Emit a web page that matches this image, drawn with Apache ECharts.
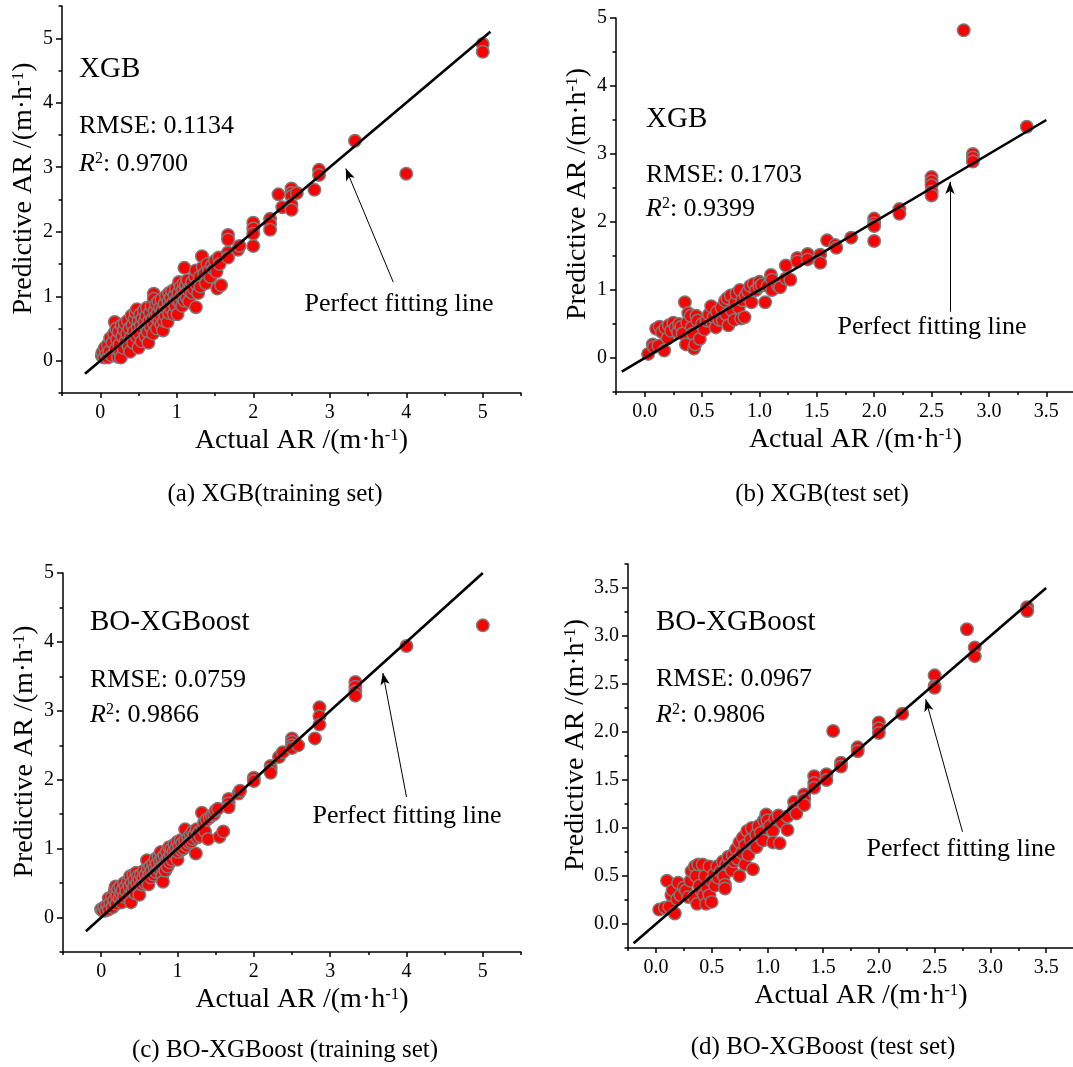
<!DOCTYPE html>
<html>
<head>
<meta charset="utf-8">
<script src="https://cdn.jsdelivr.net/npm/echarts@6/dist/echarts.min.js"></script>
<style>
  html, body { margin: 0; padding: 0; background: #fff; }
  #chart { width: 1073px; height: 1067px; }
</style>
</head>
<body>
<div id="chart"></div>
<script>
// ---- data: [actual, predicted] pairs (m·h-1) ----
const xgbTrain = [
  [0.02,0.08],[0.03,0.13],[0.05,0.05],[0.06,0.2],[0.08,0.1],[0.1,0.05],[0.1,0.25],[0.12,0.15],[0.13,0.35],[0.15,0.08],
  [0.16,0.28],[0.18,0.42],[0.19,0.6],[0.2,0.18],[0.21,0.5],[0.22,0.33],[0.23,0.06],[0.24,0.45],[0.25,0.25],[0.26,0.13],
  [0.27,0.05],[0.28,0.55],[0.29,0.38],[0.3,0.2],[0.31,0.48],[0.32,0.58],[0.33,0.3],[0.35,0.42],[0.36,0.62],[0.37,0.22],
  [0.38,0.5],[0.39,0.14],[0.4,0.36],[0.41,0.7],[0.42,0.55],[0.43,0.28],[0.44,0.45],[0.45,0.65],[0.46,0.75],[0.47,0.38],
  [0.48,0.8],[0.49,0.52],[0.5,0.2],[0.5,0.62],[0.51,0.42],[0.52,0.72],[0.53,0.55],[0.54,0.3],[0.55,0.66],[0.56,0.48],
  [0.57,0.78],[0.58,0.6],[0.59,0.38],[0.6,0.7],[0.6,0.52],[0.61,0.82],[0.62,0.45],[0.63,0.28],[0.64,0.62],[0.65,0.75],
  [0.66,0.52],[0.67,0.85],[0.68,0.65],[0.69,0.42],[0.7,1.04],[0.7,0.96],[0.7,0.58],[0.71,0.78],[0.72,0.68],[0.73,0.88],
  [0.74,0.5],[0.75,0.74],[0.76,0.92],[0.77,0.62],[0.78,0.82],[0.79,0.7],[0.8,0.95],[0.8,0.56],[0.81,0.78],[0.82,0.47],
  [0.83,0.62],[0.84,0.88],[0.85,0.7],[0.86,1.0],[0.87,0.8],[0.88,0.6],[0.89,0.92],[0.9,1.05],[0.9,0.74],[0.91,0.85],
  [0.92,0.98],[0.93,0.8],[0.94,1.08],[0.95,0.9],[0.96,0.72],[0.97,1.02],[0.98,0.85],[0.99,1.12],[1.0,0.95],[1.01,0.72],
  [1.02,1.05],[1.03,1.22],[1.04,0.9],[1.05,1.15],[1.06,1.0],[1.07,0.85],[1.08,1.1],[1.09,1.2],[1.1,0.93],[1.1,1.44],
  [1.11,1.05],[1.12,1.18],[1.13,0.98],[1.14,1.25],[1.15,1.1],[1.16,0.92],[1.18,1.15],[1.2,1.05],[1.2,1.22],[1.22,1.12],
  [1.24,1.3],[1.25,0.83],[1.25,1.4],[1.26,1.18],[1.28,1.05],[1.3,1.3],[1.31,1.15],[1.33,1.62],[1.34,1.45],[1.36,1.35],
  [1.38,1.2],[1.4,1.5],[1.42,1.4],[1.44,1.3],[1.46,1.48],[1.48,1.42],[1.5,1.55],[1.52,1.38],[1.53,1.12],[1.55,1.6],
  [1.56,1.5],[1.58,1.17],[1.67,1.95],[1.67,1.88],[1.67,1.68],[1.67,1.6],[1.8,1.72],[1.82,1.78],[2.0,2.14],[2.0,2.05],
  [2.0,1.97],[2.0,1.78],[2.22,2.2],[2.22,2.12],[2.22,2.03],[2.33,2.58],[2.38,2.38],[2.5,2.67],[2.5,2.6],[2.5,2.55],
  [2.5,2.42],[2.5,2.34],[2.57,2.6],[2.8,2.65],[2.86,2.96],[2.86,2.88],[3.33,3.41],[4.0,2.9],[5.0,4.91],[5.0,4.79]
];
const xgbTest = [
  [0.03,0.06],[0.07,0.2],[0.08,0.16],[0.1,0.43],[0.12,0.18],[0.13,0.46],[0.15,0.38],[0.17,0.11],[0.18,0.44],[0.2,0.29],
  [0.21,0.48],[0.23,0.4],[0.25,0.52],[0.27,0.45],[0.29,0.38],[0.3,0.5],[0.32,0.46],[0.33,0.36],[0.35,0.82],[0.36,0.2],
  [0.37,0.52],[0.38,0.66],[0.4,0.62],[0.41,0.45],[0.42,0.36],[0.43,0.14],[0.44,0.2],[0.45,0.62],[0.46,0.55],[0.48,0.28],
  [0.5,0.5],[0.52,0.42],[0.54,0.55],[0.56,0.64],[0.58,0.76],[0.59,0.52],[0.6,0.6],[0.62,0.45],[0.63,0.68],[0.65,0.56],
  [0.67,0.74],[0.68,0.55],[0.7,0.84],[0.71,0.64],[0.72,0.88],[0.73,0.48],[0.75,0.92],[0.76,0.7],[0.78,0.56],[0.79,0.82],
  [0.8,0.95],[0.82,0.74],[0.83,1.0],[0.84,0.58],[0.85,0.85],[0.87,0.6],[0.88,0.92],[0.9,0.98],[0.92,1.06],[0.93,0.82],
  [0.95,1.09],[0.97,1.0],[1.0,1.12],[1.0,1.05],[1.02,1.08],[1.05,0.82],[1.07,1.06],[1.1,1.22],[1.11,1.15],[1.11,1.0],
  [1.16,1.07],[1.18,1.04],[1.23,1.36],[1.23,1.17],[1.27,1.15],[1.33,1.47],[1.33,1.42],[1.42,1.53],[1.42,1.45],[1.53,1.52],
  [1.53,1.4],[1.59,1.73],[1.66,1.66],[1.67,1.62],[1.8,1.77],[2.0,2.05],[2.0,1.98],[2.0,1.94],[2.0,1.72],[2.22,2.19],
  [2.22,2.12],[2.5,2.66],[2.5,2.6],[2.5,2.54],[2.5,2.45],[2.5,2.39],[2.78,4.82],[2.86,3.0],[2.86,2.95],[2.86,2.89],
  [3.33,3.4]
];
const boTrain = [
  [0.0,0.12],[0.02,0.1],[0.04,0.15],[0.06,0.1],[0.08,0.18],[0.1,0.28],[0.1,0.12],[0.12,0.22],[0.14,0.3],[0.15,0.15],
  [0.17,0.25],[0.18,0.4],[0.19,0.45],[0.2,0.2],[0.21,0.32],[0.22,0.42],[0.24,0.28],[0.25,0.45],[0.26,0.35],[0.27,0.22],
  [0.28,0.4],[0.3,0.5],[0.3,0.3],[0.32,0.45],[0.33,0.38],[0.35,0.52],[0.36,0.3],[0.37,0.45],[0.38,0.6],[0.39,0.22],
  [0.4,0.5],[0.41,0.38],[0.42,0.62],[0.43,0.45],[0.44,0.55],[0.45,0.35],[0.46,0.65],[0.47,0.5],[0.48,0.6],[0.49,0.42],
  [0.5,0.33],[0.5,0.55],[0.52,0.62],[0.53,0.48],[0.55,0.58],[0.56,0.68],[0.57,0.5],[0.58,0.62],[0.6,0.83],[0.6,0.55],
  [0.61,0.7],[0.62,0.48],[0.63,0.62],[0.64,0.74],[0.65,0.58],[0.66,0.68],[0.68,0.78],[0.69,0.62],[0.7,0.72],[0.71,0.85],
  [0.72,0.66],[0.73,0.78],[0.75,0.88],[0.76,0.7],[0.77,0.82],[0.78,0.95],[0.79,0.74],[0.8,0.6],[0.8,0.86],[0.81,0.52],
  [0.82,0.76],[0.83,0.9],[0.84,0.68],[0.85,0.82],[0.86,0.96],[0.87,0.74],[0.88,0.86],[0.89,1.02],[0.9,0.8],[0.91,0.92],
  [0.92,1.0],[0.93,0.84],[0.95,0.96],[0.96,1.06],[0.97,0.9],[0.98,1.0],[1.0,0.84],[1.0,1.1],[1.01,0.95],[1.02,1.04],
  [1.04,1.12],[1.05,0.98],[1.06,1.08],[1.08,1.0],[1.1,1.28],[1.1,1.12],[1.12,1.04],[1.14,1.16],[1.15,1.08],[1.17,1.2],
  [1.18,1.1],[1.2,1.25],[1.2,1.14],[1.22,1.2],[1.24,0.93],[1.25,1.28],[1.26,1.16],[1.28,1.24],[1.3,1.18],[1.32,1.52],
  [1.33,1.3],[1.35,1.38],[1.36,1.25],[1.38,1.42],[1.4,1.14],[1.42,1.45],[1.45,1.48],[1.48,1.5],[1.5,1.55],[1.53,1.58],
  [1.55,1.17],[1.6,1.25],[1.67,1.72],[1.67,1.66],[1.67,1.6],[1.8,1.8],[1.82,1.84],[2.0,2.03],[2.0,1.98],[2.22,2.2],
  [2.22,2.15],[2.22,2.1],[2.33,2.33],[2.38,2.4],[2.5,2.6],[2.5,2.55],[2.5,2.5],[2.5,2.46],[2.58,2.5],[2.8,2.6],
  [2.86,3.05],[2.86,2.92],[2.86,2.8],[3.33,3.42],[3.33,3.35],[3.33,3.28],[3.33,3.22],[4.0,3.94],[5.0,4.24]
];
const boTest = [
  [0.03,0.15],[0.08,0.17],[0.1,0.45],[0.12,0.18],[0.14,0.3],[0.15,0.35],[0.17,0.11],[0.19,0.26],[0.2,0.43],[0.22,0.3],
  [0.25,0.38],[0.27,0.35],[0.29,0.28],[0.31,0.45],[0.32,0.55],[0.34,0.28],[0.35,0.6],[0.36,0.5],[0.37,0.21],[0.38,0.62],
  [0.39,0.4],[0.41,0.34],[0.42,0.62],[0.43,0.3],[0.44,0.5],[0.45,0.21],[0.46,0.38],[0.48,0.6],[0.48,0.3],[0.5,0.23],
  [0.5,0.45],[0.52,0.52],[0.53,0.4],[0.55,0.6],[0.56,0.48],[0.58,0.55],[0.6,0.65],[0.61,0.5],[0.62,0.41],[0.62,0.37],
  [0.63,0.62],[0.65,0.7],[0.66,0.6],[0.68,0.56],[0.69,0.72],[0.7,0.65],[0.72,0.78],[0.73,0.68],[0.75,0.5],[0.75,0.85],
  [0.77,0.74],[0.78,0.9],[0.8,0.62],[0.8,0.82],[0.82,0.97],[0.83,0.72],[0.85,0.88],[0.86,1.0],[0.87,0.57],[0.88,0.82],
  [0.9,0.8],[0.9,0.93],[0.92,1.02],[0.94,0.95],[0.96,0.87],[0.97,1.08],[0.99,1.14],[1.0,1.08],[1.02,1.02],[1.05,0.97],
  [1.05,0.85],[1.07,1.1],[1.1,1.13],[1.11,0.84],[1.13,1.06],[1.18,1.12],[1.18,0.98],[1.24,1.27],[1.24,1.2],[1.26,1.15],
  [1.33,1.35],[1.33,1.3],[1.33,1.24],[1.42,1.54],[1.42,1.47],[1.42,1.42],[1.53,1.56],[1.53,1.5],[1.59,2.01],[1.66,1.68],
  [1.66,1.64],[1.81,1.84],[1.81,1.8],[2.0,2.1],[2.0,2.04],[2.0,1.99],[2.21,2.19],[2.5,2.59],[2.5,2.48],[2.5,2.46],
  [2.79,3.07],[2.86,2.88],[2.86,2.79],[3.33,3.3],[3.33,3.26]
];

// perfect fitting line end points (y = x)
const fitA = [[-0.2,-0.2],[5.1,5.1]];
const fitB = [[-0.2,-0.2],[3.5,3.5]];
const fitC = [[-0.2,-0.2],[5.0,5.0]];
const fitD = [[-0.2,-0.2],[3.5,3.5]];

// annotation arrows: [tail, head] in data units
const arrowA = [[3.83,1.22],[3.21,2.98]];
const arrowB = [[2.66,0.68],[2.66,2.59]];
const arrowC = [[4.0,1.75],[3.69,3.55]];
const arrowD = [[2.75,0.96],[2.42,2.34]];

// metrics
const modelNames = ['XGB','XGB','BO-XGBoost','BO-XGBoost'];
const rmseVals = ['0.1134','0.1703','0.0759','0.0967'];
const r2Vals = ['0.9700','0.9399','0.9866','0.9806'];
const captions = ['(a) XGB(training set)','(b) XGB(test set)','(c) BO-XGBoost (training set)','(d) BO-XGBoost (test set)'];

// tick values
const ticksInt = [0,1,2,3,4,5];
const minorIntWide = [-0.5,0.5,1.5,2.5,3.5,4.5,5.5];
const minorIntShort = [-0.5,0.5,1.5,2.5,3.5,4.5];
const ticksHalf = [0,0.5,1,1.5,2,2.5,3,3.5];
const minorQuarter = [-0.25,0.25,0.75,1.25,1.75,2.25,2.75,3.25,3.75];

// ---- layout / styling ----
const SERIF = "'Liberation Serif', 'Times New Roman', Times, serif";
const INK = '#000';
const supRich = { s: { fontSize: 17, fontFamily: SERIF, color: INK, verticalAlign: 'top', lineHeight: 18 } };

const panels = [
  { grid: {left: 62, top: 6, width: 459, height: 387},
    x: {min: -0.5, max: 5.5, major: ticksInt, minor: minorIntWide, dec: 0},
    y: {min: -0.5, max: 5.5, major: ticksInt, minor: minorIntWide, dec: 0, gap: 24},
    data: xgbTrain, fit: fitA, arrow: arrowA },
  { grid: {left: 616, top: 18, width: 459, height: 374},
    x: {min: -0.25, max: 3.75, major: ticksHalf, minor: minorQuarter, dec: 1},
    y: {min: -0.5, max: 5, major: ticksInt, minor: minorIntShort, dec: 0, gap: 24},
    data: xgbTest, fit: fitB, arrow: arrowB },
  { grid: {left: 63, top: 573, width: 458, height: 379},
    x: {min: -0.5, max: 5.5, major: ticksInt, minor: minorIntWide, dec: 0},
    y: {min: -0.5, max: 5, major: ticksInt, minor: minorIntShort, dec: 0, gap: 24},
    data: boTrain, fit: fitC, arrow: arrowC },
  { grid: {left: 628, top: 564, width: 446, height: 384},
    x: {min: -0.25, max: 3.75, major: ticksHalf, minor: minorQuarter, dec: 1},
    y: {min: -0.25, max: 3.75, major: ticksHalf, minor: minorQuarter, dec: 1, gap: 32},
    data: boTest, fit: fitD, arrow: arrowD }
];

// text anchor points (px)
const textSpots = [
  {left: 79, name: 69, rmse: 126, r2: 164, noteX: 399, noteY: 304, capX: 275, capY: 494},
  {left: 646, name: 119, rmse: 175, r2: 209, noteX: 932, noteY: 327, capX: 822, capY: 494},
  {left: 90, name: 622, rmse: 680, r2: 715, noteX: 407, noteY: 816, capX: 285, capY: 1050},
  {left: 656, name: 622, rmse: 679, r2: 715, noteX: 961, noteY: 849, capX: 823, capY: 1047}
];

const lineBlack = {color: INK, width: 1.5};
const grids = [], xAxes = [], yAxes = [], series = [], graphics = [];

panels.forEach((p, i) => {
  grids.push(Object.assign({outerBoundsMode: 'none', containLabel: false}, p.grid));

  const fmt = d => v => v.toFixed(d);
  // main x axis: line, major ticks, labels, name
  xAxes.push({
    gridIndex: i, type: 'value', position: 'bottom', min: p.x.min, max: p.x.max,
    axisLine: {show: true, onZero: false, lineStyle: lineBlack},
    axisTick: {show: true, customValues: p.x.major, length: 5, lineStyle: lineBlack},
    axisLabel: {show: true, customValues: p.x.major, formatter: fmt(p.x.dec), fontSize: 20,
                fontFamily: SERIF, color: INK, margin: 10},
    splitLine: {show: false},
    name: 'Actual AR /(m·h{s|-1})', nameLocation: 'middle', nameGap: 34,
    nameTextStyle: {fontSize: 28, fontFamily: SERIF, color: INK, padding: [0, 0, 0, 20], rich: supRich}
  });
  // minor x ticks
  xAxes.push({
    gridIndex: i, type: 'value', position: 'bottom', min: p.x.min, max: p.x.max,
    axisLine: {show: false, onZero: false},
    axisTick: {show: true, customValues: p.x.minor, length: 3, lineStyle: lineBlack},
    axisLabel: {show: false}, splitLine: {show: false}
  });
  // main y axis
  yAxes.push({
    gridIndex: i, type: 'value', position: 'left', min: p.y.min, max: p.y.max,
    axisLine: {show: true, onZero: false, lineStyle: lineBlack},
    axisTick: {show: true, customValues: p.y.major, length: 6, lineStyle: lineBlack},
    axisLabel: {show: true, customValues: p.y.major, formatter: fmt(p.y.dec), fontSize: 20,
                fontFamily: SERIF, color: INK, margin: 9},
    splitLine: {show: false},
    name: 'Predictive AR /(m·h{s|-1})', nameLocation: 'middle', nameGap: p.y.gap,
    nameTextStyle: {fontSize: 28, fontFamily: SERIF, color: INK, padding: [0, 0, 0, 22], rich: supRich}
  });
  // minor y ticks
  yAxes.push({
    gridIndex: i, type: 'value', position: 'left', min: p.y.min, max: p.y.max,
    axisLine: {show: false, onZero: false},
    axisTick: {show: true, customValues: p.y.minor, length: 3.5, lineStyle: lineBlack},
    axisLabel: {show: false}, splitLine: {show: false}
  });

  series.push({
    type: 'scatter', xAxisIndex: 2 * i, yAxisIndex: 2 * i, data: p.data,
    symbol: 'circle', symbolSize: 12.5, silent: true,
    itemStyle: {color: '#ff0000', borderColor: '#7b7b7b', borderWidth: 1.5, opacity: 1}
  });
  series.push({
    type: 'line', xAxisIndex: 2 * i, yAxisIndex: 2 * i, data: p.fit,
    symbol: 'none', silent: true, z: 5,
    lineStyle: {color: INK, width: 2.6},
    markLine: {
      silent: true, symbol: ['none', 'arrow'], symbolSize: [7, 12], precision: 3,
      lineStyle: {color: INK, width: 1, type: 'solid'}, label: {show: false},
      emphasis: {disabled: true},
      data: [[{coord: p.arrow[0]}, {coord: p.arrow[1]}]]
    }
  });

  const t = textSpots[i];
  graphics.push(
    {type: 'text', x: t.left, y: t.name, style: {text: modelNames[i], fontSize: 29, fontFamily: SERIF,
      fill: INK, align: 'left', verticalAlign: 'middle'}},
    {type: 'text', x: t.left, y: t.rmse, style: {text: 'RMSE: ' + rmseVals[i], fontSize: 26, fontFamily: SERIF,
      fill: INK, align: 'left', verticalAlign: 'middle'}},
    {type: 'text', x: t.left, y: t.r2, style: {text: '{i|R}{s|2}: ' + r2Vals[i], fontSize: 26, fontFamily: SERIF,
      fill: INK, align: 'left', verticalAlign: 'middle',
      rich: {i: {fontSize: 26, fontFamily: SERIF, fontStyle: 'italic', fill: INK},
             s: {fontSize: 16, fontFamily: SERIF, fill: INK, verticalAlign: 'top', lineHeight: 16}}}},
    {type: 'text', x: t.noteX, y: t.noteY, style: {text: 'Perfect fitting line', fontSize: 26, fontFamily: SERIF,
      fill: INK, align: 'center', verticalAlign: 'middle'}},
    {type: 'text', x: t.capX, y: t.capY, style: {text: captions[i], fontSize: 25, fontFamily: SERIF,
      fill: INK, align: 'center', verticalAlign: 'middle'}}
  );
});

const chart = echarts.init(document.getElementById('chart'), null, {renderer: 'canvas'});
chart.setOption({
  animation: false,
  backgroundColor: '#fff',
  grid: grids,
  xAxis: xAxes,
  yAxis: yAxes,
  series: series,
  graphic: graphics
});
</script>
</body>
</html>
